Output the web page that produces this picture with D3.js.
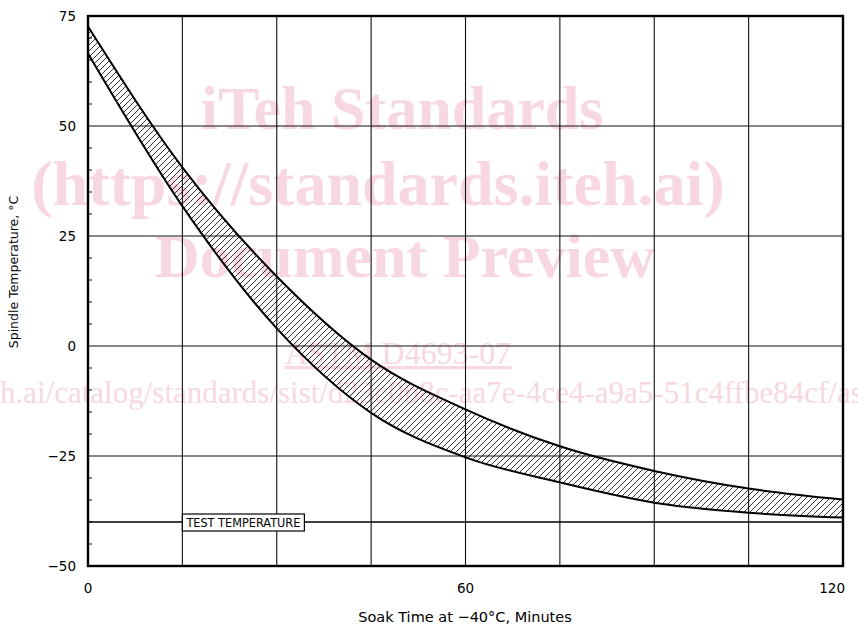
<!DOCTYPE html>
<html>
<head>
<meta charset="utf-8">
<script src="https://cdn.jsdelivr.net/npm/d3@7.9.0/dist/d3.min.js"></script>
<style>
  html, body { margin: 0; padding: 0; background: #fff; }
  svg { display: block; }
</style>
</head>
<body>
<div id="chart"></div>
<script>
// soak time (minutes) where the band edges were read
const minutes = [0, 15, 30, 45, 60, 75, 90, 105, 120];
// upper and lower edge of the spindle temperature band, °C
const upperTemp = [72.6, 40.6, 15.8, -3.1, -14.4, -22.8, -28.4, -32.4, -34.9];
const lowerTemp = [66.5, 31.8, 4.0, -15.2, -25.3, -31.0, -35.6, -37.9, -39.0];
const testTemp = -40;

const xTicks = [0, 60, 120];
const xGrid = [15, 30, 45, 60, 75, 90, 105];
const yTicks = [75, 50, 25, 0, -25, -50];
const yGrid = [50, 25, 0, -25];
const yMinor = [70, 65, 60, 55, 45, 40, 35, 30, 20, 15, 10, 5, -5, -10, -15, -20, -30, -35, -40, -45];

const width = 858, height = 627;
const margin = { top: 16, right: 15, bottom: 61, left: 88 };

const svg = d3.select("#chart").append("svg")
  .attr("width", width)
  .attr("height", height);

// watermark, sits behind the drawing
const wm = svg.append("g")
  .attr("fill", "#f8d8e0")
  .attr("font-family", "Liberation Serif, serif");

wm.append("text").attr("x", 402).attr("y", 129)
  .attr("text-anchor", "middle").attr("font-size", 62).attr("font-weight", "bold")
  .text("iTeh Standards");
wm.append("text").attr("x", 378).attr("y", 205)
  .attr("text-anchor", "middle").attr("font-size", 64).attr("font-weight", "bold")
  .text("(https://standards.iteh.ai)");
wm.append("text").attr("x", 405).attr("y", 277)
  .attr("text-anchor", "middle").attr("font-size", 62).attr("font-weight", "bold")
  .text("Document Preview");
wm.append("text").attr("x", 398).attr("y", 364)
  .attr("text-anchor", "middle").attr("font-size", 32)
  .attr("text-decoration", "underline")
  .text("ASTM D4693-07");

// the link line runs off both edges, as in the scan
const urlPrefix = "https://standards.ite";
const urlText = wm.append("text").attr("y", 403).attr("font-size", 31)
  .text(urlPrefix);
const prefixLen = urlText.node().getComputedTextLength();
urlText.attr("x", -prefixLen)
  .text("https://standards.iteh.ai/catalog/standards/sist/d23c0b8c-aa7e-4ce4-a9a5-51c4ffbe84cf/astm-d4693-07");

const innerW = width - margin.left - margin.right;
const innerH = height - margin.top - margin.bottom;

const g = svg.append("g")
  .attr("transform", `translate(${margin.left},${margin.top})`);

const x = d3.scaleLinear().domain([0, 120]).range([0, innerW]);
const y = d3.scaleLinear().domain([-50, 75]).range([innerH, 0]);

// grid
g.append("g").selectAll("line")
  .data(xGrid)
  .join("line")
    .attr("x1", d => x(d)).attr("x2", d => x(d))
    .attr("y1", 0).attr("y2", innerH)
    .attr("stroke", "#111").attr("stroke-width", 1.1);

g.append("g").selectAll("line")
  .data(yGrid)
  .join("line")
    .attr("x1", 0).attr("x2", innerW)
    .attr("y1", d => y(d)).attr("y2", d => y(d))
    .attr("stroke", "#111").attr("stroke-width", 1.1);

// minor ticks on the temperature axis, pointing inward
g.append("g").selectAll("line")
  .data(yMinor)
  .join("line")
    .attr("x1", 0).attr("x2", 4)
    .attr("y1", d => y(d)).attr("y2", d => y(d))
    .attr("stroke", "#111").attr("stroke-width", 1);

// hatch pattern for the band
const defs = svg.append("defs");
const hatch = defs.append("pattern")
  .attr("id", "hatch")
  .attr("patternUnits", "userSpaceOnUse")
  .attr("width", 6)
  .attr("height", 6);
hatch.append("path")
  .attr("d", "M-1.5,1.5 L1.5,-1.5 M0,6 L6,0 M4.5,7.5 L7.5,4.5")
  .attr("stroke", "#000")
  .attr("stroke-width", 0.8);

const band = minutes.map((m, i) => ({ m, hi: upperTemp[i], lo: lowerTemp[i] }));

const area = d3.area()
  .x(d => x(d.m))
  .y0(d => y(d.lo))
  .y1(d => y(d.hi))
  .curve(d3.curveMonotoneX);

g.append("path")
  .datum(band)
  .attr("d", area)
  .attr("fill", "url(#hatch)");

const upperLine = d3.line().x(d => x(d.m)).y(d => y(d.hi)).curve(d3.curveMonotoneX);
const lowerLine = d3.line().x(d => x(d.m)).y(d => y(d.lo)).curve(d3.curveMonotoneX);

g.append("path").datum(band).attr("d", upperLine)
  .attr("fill", "none").attr("stroke", "#000").attr("stroke-width", 2);
g.append("path").datum(band).attr("d", lowerLine)
  .attr("fill", "none").attr("stroke", "#000").attr("stroke-width", 2);

// test temperature line with boxed label
g.append("line")
  .attr("x1", 0).attr("x2", innerW)
  .attr("y1", y(testTemp)).attr("y2", y(testTemp))
  .attr("stroke", "#000").attr("stroke-width", 1.6);

const lbl = g.append("g")
  .attr("transform", `translate(${x(15)},${y(testTemp)})`);
lbl.append("rect")
  .attr("x", 0).attr("y", -8)
  .attr("width", 122).attr("height", 17)
  .attr("fill", "#fff").attr("stroke", "#000").attr("stroke-width", 1.2);
lbl.append("text")
  .attr("x", 4).attr("y", 5)
  .attr("font-family", "DejaVu Sans, sans-serif")
  .attr("font-size", 12.5)
  .attr("textLength", 114)
  .attr("lengthAdjust", "spacingAndGlyphs")
  .attr("fill", "#000")
  .text("TEST TEMPERATURE");

// frame
g.append("rect")
  .attr("x", 0).attr("y", 0)
  .attr("width", innerW).attr("height", innerH)
  .attr("fill", "none").attr("stroke", "#000").attr("stroke-width", 2.4);

// tick labels
const font = "DejaVu Sans, sans-serif";

g.append("g").selectAll("text")
  .data(yTicks)
  .join("text")
    .attr("x", -12)
    .attr("y", d => y(d))
    .attr("dy", "0.36em")
    .attr("text-anchor", "end")
    .attr("font-family", font)
    .attr("font-size", 13.5)
    .text(d => d < 0 ? "\u2212" + Math.abs(d) : d);

g.append("g").selectAll("text")
  .data(xTicks)
  .join("text")
    .attr("x", d => x(d))
    .attr("y", innerH + 27)
    .attr("text-anchor", d => d === 120 ? "end" : "middle")
    .attr("dx", d => d === 120 ? 2 : 0)
    .attr("font-family", font)
    .attr("font-size", 13.5)
    .text(d => d);

// axis titles
svg.append("text")
  .attr("x", 465).attr("y", 622)
  .attr("text-anchor", "middle")
  .attr("font-family", font)
  .attr("font-size", 14.5)
  .text("Soak Time at \u221240\u00b0C, Minutes");

svg.append("text")
  .attr("transform", "translate(18,272) rotate(-90)")
  .attr("text-anchor", "middle")
  .attr("font-family", font)
  .attr("font-size", 12.5)
  .text("Spindle Temperature, \u00b0C");
</script>
</body>
</html>
